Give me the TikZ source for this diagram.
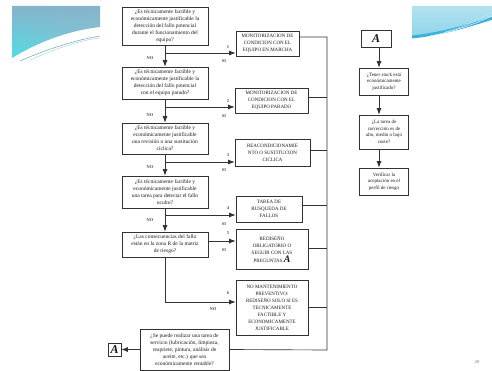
\documentclass[tikz,border=0pt]{standalone}
\usepackage{fontspec}
\setmainfont{Liberation Serif}
\usetikzlibrary{arrows.meta,calc,shadings}
\definecolor{linec}{HTML}{333333}
\definecolor{swA}{HTML}{86B4CA}
\definecolor{swB}{HTML}{52DCE6}
\definecolor{swC}{HTML}{8CC6D6}
\definecolor{swD}{HTML}{B2E2F0}
\definecolor{swE}{HTML}{3CB2DA}
\definecolor{swL}{HTML}{6AA6BE}
\begin{document}
\begin{tikzpicture}[x=1pt,y=-1pt,
  box/.style={draw=linec,line width=0.75pt,inner sep=0pt,align=center,fill=white,text=black!90},
  qbox/.style={box,font=\fontsize{5.5}{7}\selectfont},
  mbox/.style={box,font=\fontsize{5}{7}\selectfont},
  rbox/.style={box,font=\fontsize{5}{6.6}\selectfont,minimum width=49pt},
  abox/.style={box,font=\fontsize{12}{12}\selectfont\bfseries\itshape},
  arr/.style={-{Latex[length=6.5pt,width=5pt]},line width=0.75pt,draw=linec},
  ln/.style={line width=0.65pt,draw=linec},
  lbl/.style={font=\fontsize{4.4}{4.4}\selectfont\bfseries,text=black!70,inner sep=0pt},
]
\useasboundingbox (0,0) rectangle (492,371);
\fill[white] (0,0) rectangle (492,371);

% decorative swooshes
\shade[upper left=swA,upper right=swA,lower left=swB,lower right=swC]
  (12,6) -- (100,6) -- (100,27) .. controls (65,31) and (35,44) .. (12,58) -- cycle;
\draw[swL,line width=0.5pt] (20,61) .. controls (45,50) and (75,40) .. (100,36);
\draw[swL!60,line width=0.4pt] (30,60) .. controls (55,49) and (80,40) .. (100,38);
\shade[top color=swD,bottom color=swD!70!swE]
  (412,6) -- (492,6) -- (492,20) .. controls (465,28) and (440,35) .. (412,38) -- cycle;
\draw[swE,line width=3pt] (412,37) .. controls (440,34) and (465,27) .. (492,18);
\draw[white,line width=0.4pt] (430,36) .. controls (455,31) and (475,24) .. (492,16);
\draw[white!70!swE,line width=0.4pt] (445,32) .. controls (465,27) and (480,19) .. (492,12);

% left column questions
\node[qbox,minimum width=86pt,minimum height=38pt] (q1) at (165,26)
  {¿Es técnicamente factible y\\económicamente justificable la\\detección del fallo potencial\\durante el funcionamiento del\\equipo?};
\node[qbox,minimum width=86pt,minimum height=32pt] (q2) at (165,83)
  {¿Es técnicamente factible y\\económicamente justificable la\\detección del fallo potencial\\con el equipo parado?};
\node[qbox,minimum width=86pt,minimum height=31pt] (q3) at (165,138.5)
  {¿Es técnicamente factible y\\económicamente justificable\\una revisión o una sustitución\\cíclica?};
\node[qbox,minimum width=86pt,minimum height=32pt] (q4) at (165,192)
  {¿Es técnicamente factible y\\económicamente justificable\\una tarea para detectar el fallo\\oculto?};
\node[qbox,minimum width=86pt,minimum height=25pt] (q5) at (165,244.5)
  {¿Las consecuencias del fallo\\están en la zona R de la matriz\\de riesgo?};
\node[qbox,minimum width=89pt,minimum height=41pt] (q7) at (184.5,349.5)
  {¿Se puede realizar una tarea de\\servicio (lubricación, limpieza,\\reapriete, pintura, análisis de\\aceite, etc.) que sea\\económicamente rentable?};
\node[abox,minimum width=13pt,minimum height=13pt] (a1) at (114.5,349.5) {A};

% middle column
\node[mbox,minimum width=63pt,minimum height=25pt] (m1) at (267.5,43.5)
  {MONITORIZACION DE\\CONDICION CON EL\\EQUIPO EN MARCHA};
\node[mbox,minimum width=73pt,minimum height=25pt] (m2) at (271.5,100.5)
  {MONITORIZACION DE\\CONDICION CON EL\\EQUIPO PARADO};
\node[mbox,minimum width=75pt,minimum height=27pt] (m3) at (272.5,152.5)
  {REACONDICIONAMIE\\NTO O SUSTITUCION\\CICLICA};
\node[mbox,minimum width=66pt,minimum height=26pt] (m4) at (269,209)
  {TAREA DE\\BUSQUEDA DE\\FALLOS};
\node[mbox,minimum width=72pt,minimum height=40pt] (m5) at (272,249)
  {REDISEÑO\\OBLIGATORIO O\\SEGUIR CON LAS\\[1pt]PREGUNTAS {\fontsize{10}{7}\selectfont\bfseries\itshape A}};
\node[mbox,minimum width=72pt,minimum height=55pt] (m6) at (272,307.5)
  {NO MANTENIMIENTO\\PREVENTIVO:\\REDISEÑO SOLO SI ES\\TECNICAMENTE\\FACTIBLE Y\\ECONOMICAMENTE\\JUSTIFICABLE};

% right column
\node[abox,minimum width=30pt,minimum height=17pt] (a2) at (376,38.5) {A};
\node[rbox,minimum height=27pt] (r1) at (384,81.5)
  {¿Tener stock está\\económicamente\\justificado?};
\node[rbox,minimum height=34pt] (r2) at (384,132)
  {¿La tarea de\\corrección es de\\alto, medio o bajo\\coste?};
\node[rbox,minimum height=27pt] (r3) at (384,181.5)
  {Verificar la\\aceptación en el\\perfil de riesgo};

% main flow
\draw[arr] (q1.south) -- (q2.north);
\draw[arr] (q2.south) -- (q3.north);
\draw[arr] (q3.south) -- (q4.north);
\draw[arr] (q4.south) -- (q5.north);

\coordinate (b1) at (165,53);
\coordinate (b2) at (165,107);
\coordinate (b3) at (165,162);
\coordinate (b4) at (165,215);
\coordinate (b5) at (208,241);
\coordinate (c6) at (165,302);
\draw[arr] (b1) -- (b1 -| m1.west);
\draw[arr] (b2) -- (b2 -| m2.west);
\draw[arr] (b3) -- (b3 -| m3.west);
\draw[arr] (b4) -- (b4 -| m4.west);
\draw[arr] (b5) -- (b5 -| m5.west);
\draw[arr] (q5.south) -- (c6) -- (c6 -| m6.west);

% collector line on the right
\coordinate (rt) at (327,37);
\coordinate (rb) at (327,350);
\coordinate (v2) at (327,97);
\coordinate (v3) at (327,150);
\coordinate (v4) at (327,205);
\coordinate (v5) at (327,248);
\coordinate (v6) at (327,307);
\draw[ln] (rt -| m1.east) -- (rt) -- (rb) -- (q7.east);
\draw[ln] (v2 -| m2.east) -- (v2);
\draw[ln] (v3 -| m3.east) -- (v3);
\draw[ln] (v4 -| m4.east) -- (v4);
\draw[ln] (v5 -| m5.east) -- (v5);
\draw[ln] (v6 -| m6.east) -- (v6);

\draw[arr] (q7.west) -- (a1.east);

% right column arrows
\coordinate (ax) at (379,0);
\draw[arr] (a2.south -| ax) -- (r1.north -| ax);
\draw[arr] (r1.south -| ax) -- (r2.north -| ax);
\draw[arr] (r2.south -| ax) -- (r3.north -| ax);

% labels
\node[lbl] at (228,47) {1};
\node[lbl] at (228,101) {2};
\node[lbl] at (228,155) {3};
\node[lbl] at (228,208) {4};
\node[lbl] at (228,233) {5};
\node[lbl] at (228,293) {6};
\node[lbl] at (224,61) {SI};
\node[lbl] at (224,116) {SI};
\node[lbl] at (224,170) {SI};
\node[lbl] at (224,224) {SI};
\node[lbl] at (224,250) {SI};
\node[lbl] at (150,58) {NO};
\node[lbl] at (150,115) {NO};
\node[lbl] at (150,167) {NO};
\node[lbl] at (150,220) {NO};
\node[lbl] at (213,309) {NO};

\node[font=\fontsize{4.5}{4.5}\selectfont,text=black!55] (pg) at (477,362) {20};
\end{tikzpicture}
\end{document}
